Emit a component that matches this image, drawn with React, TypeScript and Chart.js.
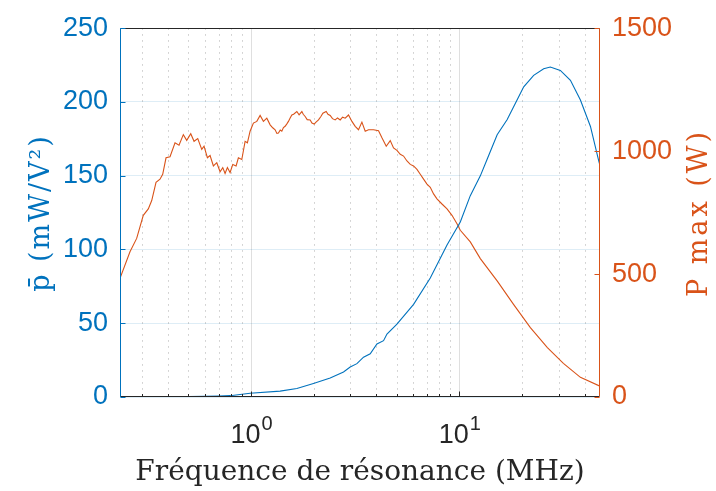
import React, { useEffect, useRef } from "react";
import { Chart, registerables } from "chart.js";

Chart.register(...registerables);

// ---- Data ----
const X_MIN = 0.2346;
const X_MAX = 47.4;

// P max (W), right axis
const freqPmax = [
  0.2346, 0.262, 0.2821, 0.3035, 0.3208, 0.3332, 0.3494, 0.3651, 0.3762, 0.3903,
  0.4079, 0.4311, 0.4506, 0.4726, 0.4907, 0.513, 0.5321, 0.5543, 0.5794, 0.5943,
  0.6166, 0.6353, 0.6589, 0.6841, 0.7096, 0.731, 0.7499, 0.7694, 0.7926, 0.8167,
  0.8471, 0.8688, 0.9022, 0.9358, 0.9598, 0.989, 1.0258, 1.0652, 1.1049, 1.1458,
  1.1899, 1.2343, 1.27, 1.3044, 1.33, 1.353, 1.38, 1.4047, 1.43, 1.457, 1.485,
  1.5112, 1.54, 1.5693, 1.6, 1.6586, 1.7, 1.7532, 1.78, 1.8183, 1.86, 1.9219,
  1.96, 2.0089, 2.05, 2.1069, 2.16, 2.2117, 2.2943, 2.34, 2.3983, 2.46, 2.5345,
  2.6, 2.6792, 2.75, 2.8313, 2.9370, 3.0496, 3.1623, 3.2802, 3.4056, 3.5326,
  3.664, 3.8726, 4.093, 4.2507, 4.4566, 4.6592, 4.8319, 5.0177, 5.2047, 5.3984,
  5.6055, 5.8143, 6.0306, 6.2612, 6.4938, 6.7359, 6.9937, 7.2539, 7.523, 7.8121,
  8.2566, 8.7297, 9.2226, 9.7477, 10.111, 11.293, 12.618, 15.227, 18.181,
  21.946, 26.49, 31.62, 38.17, 47.37,
];
const pmax = [
  483, 591, 645, 739, 765, 799, 873, 886, 906, 973,
  977, 1034, 1024, 1067, 1044, 1071, 1040, 1051, 1007, 1020,
  973, 982, 940, 953, 916, 933, 909, 933, 913, 946,
  940, 973, 966, 1040, 1034, 1081, 1114, 1121, 1145, 1121,
  1134, 1107, 1095, 1087, 1072, 1074, 1086, 1081, 1096, 1101, 1111,
  1121, 1135, 1147, 1150, 1161, 1148, 1161, 1150, 1141, 1128, 1127,
  1114, 1110, 1118, 1127, 1140, 1154, 1161, 1150, 1145, 1132, 1127,
  1135, 1127, 1138, 1134, 1147, 1121, 1101, 1087, 1118, 1081,
  1087, 1087, 1083, 1054, 1020, 1043, 1013, 1003, 987, 980,
  960, 946, 940, 926, 906, 886, 866, 853, 826, 806,
  785, 765, 739, 705, 678, 631, 563, 471, 378,
  282, 201, 137, 80, 44,
];

// p-bar (mW/V^2), left axis
const freqPbar = [
  0.2346, 0.3, 0.4, 0.5, 0.6, 0.7, 0.793, 0.989, 1.378, 1.659, 1.993, 2.398,
  2.779, 2.992, 3.223, 3.467, 3.734, 4.022, 4.327, 4.493, 5.018, 6.031, 7.254,
  8.73, 10.111, 11.293, 12.618, 13.59, 15.2, 16.96, 18.94, 20.39, 22.76, 25.43,
  27.36, 30.57, 34.18, 38.17, 42.65, 46.74, 47.37,
];
const pbar = [
  0.1, 0.15, 0.25, 0.35, 0.5, 0.7, 0.9, 2.5, 4.0, 5.8, 9.2, 12.9,
  17.0, 20.3, 22.6, 27.0, 29.3, 36.0, 38.2, 42.7, 49.4, 62.8, 80.6,
  103.0, 118.6, 136.5, 149.9, 161, 177.8, 187.9, 201.3, 210.3, 218, 222.5,
  223.7, 221.4, 214.7, 201.3, 183.4, 160, 157,
];

const leftTicks = [0, 50, 100, 150, 200, 250];
const rightTicks = [0, 500, 1000, 1500];
const xMajorTicks = [1, 10];
const xMajorExp = ["0", "1"];
const xMinorTicks = [0.3, 0.4, 0.5, 0.6, 0.7, 0.8, 0.9, 2, 3, 4, 5, 6, 7, 8, 9, 20, 30, 40];

const xTitle = "Fréquence de résonance (MHz)";
const yTitle = "p\u0304 (mW/V²)";
const y1Title = "P max (W)";

const BLUE = "#0072BD";
const ORANGE = "#D95319";
const DARK = "#262626";
const TICK_FAMILY = "'Liberation Sans', Arial, sans-serif";
const TICK_FONT = "27px " + TICK_FAMILY;
const TITLE_FONT_FAMILY = "'DejaVu Serif', serif";

const decorPlugin = {
  id: "decor",
  beforeDatasetsDraw(chart: any) {
    const { ctx, chartArea: a, scales } = chart;
    const x = scales.x;
    ctx.save();
    ctx.lineWidth = 1;
    ctx.strokeStyle = "rgba(38,38,38,0.25)";
    ctx.setLineDash([1.5, 4.5]);
    xMinorTicks.forEach((v) => {
      const px = Math.round(x.getPixelForValue(v)) + 0.5;
      ctx.beginPath();
      ctx.moveTo(px, a.top);
      ctx.lineTo(px, a.bottom);
      ctx.stroke();
    });
    ctx.setLineDash([]);
    ctx.strokeStyle = "rgba(38,38,38,0.15)";
    xMajorTicks.forEach((v) => {
      const px = Math.round(x.getPixelForValue(v)) + 0.5;
      ctx.beginPath();
      ctx.moveTo(px, a.top);
      ctx.lineTo(px, a.bottom);
      ctx.stroke();
    });
    ctx.restore();
  },
  afterDatasetsDraw(chart: any) {
    const { ctx, chartArea: a, scales } = chart;
    const x = scales.x;
    const y = scales.y;
    const y1 = scales.y1;
    ctx.save();
    ctx.lineWidth = 1;
    const L = Math.round(a.left) + 0.5;
    const R = Math.round(a.right) - 0.5;
    const T = Math.round(a.top) + 0.5;
    const B = Math.round(a.bottom) - 0.5;
    ctx.strokeStyle = DARK;
    ctx.beginPath();
    ctx.moveTo(L, T);
    ctx.lineTo(R, T);
    ctx.moveTo(L, B);
    ctx.lineTo(R, B);
    ctx.stroke();
    xMajorTicks.forEach((v) => {
      const px = Math.round(x.getPixelForValue(v)) + 0.5;
      ctx.beginPath();
      ctx.moveTo(px, B);
      ctx.lineTo(px, B - 5);
      ctx.stroke();
    });
    xMinorTicks.forEach((v) => {
      const px = Math.round(x.getPixelForValue(v)) + 0.5;
      ctx.beginPath();
      ctx.moveTo(px, B);
      ctx.lineTo(px, B - 2.5);
      ctx.stroke();
    });
    ctx.strokeStyle = BLUE;
    ctx.beginPath();
    ctx.moveTo(L, T);
    ctx.lineTo(L, B);
    ctx.stroke();
    leftTicks.forEach((v) => {
      const py = Math.round(y.getPixelForValue(v)) + 0.5;
      ctx.beginPath();
      ctx.moveTo(L, py);
      ctx.lineTo(L + 5, py);
      ctx.stroke();
    });
    ctx.strokeStyle = ORANGE;
    ctx.beginPath();
    ctx.moveTo(R, T);
    ctx.lineTo(R, B);
    ctx.stroke();
    rightTicks.forEach((v) => {
      const py = Math.round(y1.getPixelForValue(v)) + 0.5;
      ctx.beginPath();
      ctx.moveTo(R, py);
      ctx.lineTo(R - 5, py);
      ctx.stroke();
    });

    // x tick labels 10^n
    ctx.fillStyle = DARK;
    ctx.textBaseline = "alphabetic";
    xMajorTicks.forEach((v, i) => {
      const px = x.getPixelForValue(v);
      ctx.font = TICK_FONT;
      const wBase = ctx.measureText("10").width;
      ctx.font = "20px " + TICK_FAMILY;
      const wExp = ctx.measureText(xMajorExp[i]).width;
      const start = px - (wBase + wExp) / 2;
      ctx.font = TICK_FONT;
      ctx.textAlign = "left";
      ctx.fillText("10", start, 443);
      ctx.font = "20px " + TICK_FAMILY;
      ctx.fillText(xMajorExp[i], start + wBase + 1, 430);
    });

    // x title
    ctx.font = "28px " + TITLE_FONT_FAMILY;
    ctx.textAlign = "center";
    ctx.fillStyle = DARK;
    ctx.fillText(xTitle, (a.left + a.right) / 2, 480);

    // left title
    ctx.save();
    ctx.translate(49, 213);
    ctx.rotate(-Math.PI / 2);
    ctx.font = "27px " + TITLE_FONT_FAMILY;
    (ctx as any).letterSpacing = "2px";
    ctx.fillStyle = BLUE;
    ctx.textAlign = "center";
    ctx.fillText(yTitle, 0, 0);
    ctx.restore();

    // right title
    ctx.save();
    ctx.translate(707, 213);
    ctx.rotate(-Math.PI / 2);
    ctx.font = "27px " + TITLE_FONT_FAMILY;
    (ctx as any).letterSpacing = "3px";
    ctx.fillStyle = ORANGE;
    ctx.textAlign = "center";
    ctx.fillText(y1Title, 0, 0);
    ctx.restore();

    ctx.restore();
  },
};

export default function App() {
  const ref = useRef<HTMLCanvasElement | null>(null);
  useEffect(() => {
    document.body.style.margin = "0";
    const canvas = ref.current!;
    const chart = new Chart(canvas, {
      type: "line",
      data: {
        datasets: [
          {
            label: "p",
            data: freqPbar.map((f, i) => ({ x: f, y: pbar[i] })),
            borderColor: BLUE,
            borderWidth: 1.1,
            pointRadius: 0,
            tension: 0,
            yAxisID: "y",
            order: 0,
          },
          {
            label: "Pmax",
            data: freqPmax.map((f, i) => ({ x: f, y: pmax[i] })),
            borderColor: ORANGE,
            borderWidth: 1.1,
            pointRadius: 0,
            tension: 0,
            yAxisID: "y1",
            order: 1,
          },
        ],
      },
      options: {
        animation: false,
        responsive: false,
        maintainAspectRatio: false,
        events: [],
        layout: { padding: { top: 24, left: 0, right: 0, bottom: 0 } },
        plugins: { legend: { display: false }, tooltip: { enabled: false } },
        scales: {
          x: {
            type: "logarithmic",
            min: X_MIN,
            max: X_MAX,
            ticks: { display: false },
            grid: { display: false },
            border: { display: false },
            afterFit: (s: any) => {
              s.height = 94;
            },
          },
          y: {
            position: "left",
            min: 0,
            max: 250,
            afterBuildTicks: (s: any) => {
              s.ticks = leftTicks.map((v) => ({ value: v }));
            },
            ticks: {
              color: BLUE,
              font: { family: TICK_FAMILY, size: 27 },
              padding: 12,
              callback: (v: any) => String(v),
            },
            grid: { color: "rgba(0,114,189,0.13)", drawTicks: false, lineWidth: 1 },
            border: { display: false },
            afterFit: (s: any) => {
              s.width = 120;
            },
          },
          y1: {
            position: "right",
            min: 0,
            max: 1500,
            afterBuildTicks: (s: any) => {
              s.ticks = rightTicks.map((v) => ({ value: v }));
            },
            ticks: {
              color: ORANGE,
              font: { family: TICK_FAMILY, size: 27 },
              padding: 12,
              callback: (v: any) => String(v),
            },
            grid: { drawOnChartArea: false, drawTicks: false },
            border: { display: false },
            afterFit: (s: any) => {
              s.width = 116;
            },
          },
        },
      },
      plugins: [decorPlugin],
    } as any);
    return () => chart.destroy();
  }, []);
  return <canvas ref={ref} width={716} height={491} style={{ display: "block" }} />;
}
